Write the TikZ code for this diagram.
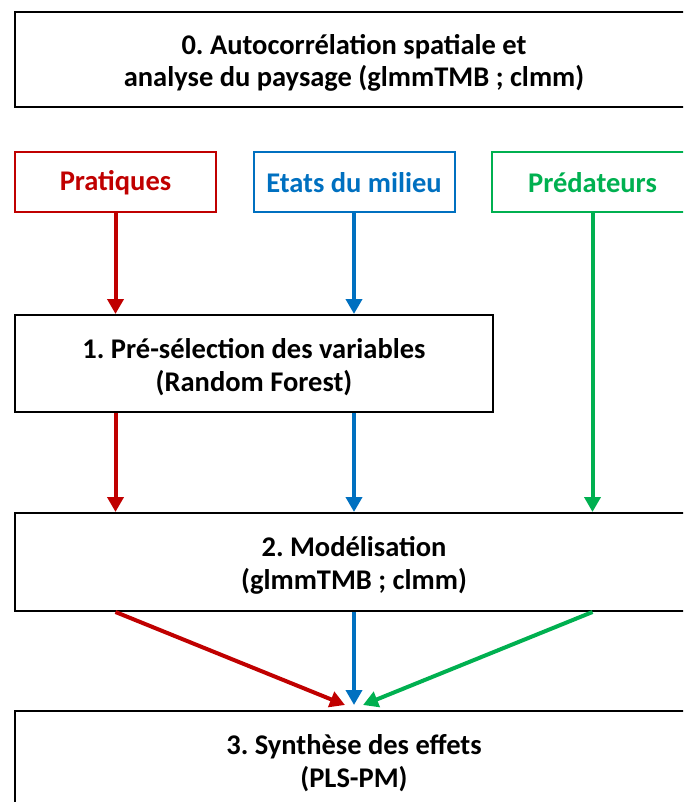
\documentclass[tikz,border=0pt]{standalone}
\usepackage{fontspec}
\setmainfont{Carlito}
\usetikzlibrary{arrows.meta}
\frenchspacing
\definecolor{cred}{HTML}{C00000}
\definecolor{cblue}{HTML}{0070C0}
\definecolor{cgreen}{HTML}{00B050}
\tikzset{
  steptext/.style={font=\fontsize{28.5}{32.5}\selectfont\bfseries, align=center,
    inner sep=0pt, yshift=-3.5pt},
  stepbox/.style={draw=black, line width=2pt, inner sep=0pt, fill=white,
    label={[steptext]center:{#1}}},
  catbox/.style={draw=#1, text=#1, line width=2pt, inner sep=0pt, align=center,
    minimum width=201pt, minimum height=60pt,
    font=\fontsize{28.5}{33}\selectfont\bfseries},
  flow/.style={draw=#1, line width=4pt, -{Triangle[length=15pt,width=16pt]}},
}
\begin{document}
\begin{tikzpicture}[x=1pt,y=-1pt]
\useasboundingbox (0,0) rectangle (683,802);
\clip (0,0) rectangle (683,802);
\node[stepbox={0. Autocorrélation spatiale et\\analyse du paysage (glmmTMB ; clmm)},
  minimum width=678pt, minimum height=95pt] (b0) at (354,59.5) {};
\node[catbox=cred] (prat) at (115.5,182.5) {Pratiques};
\node[catbox=cblue] (etat) at (354,182.5) {Etats du milieu};
\node[catbox=cgreen] (pred) at (592.5,182.5) {Prédateurs};
\node[stepbox={1. Pré-sélection des variables\\(Random Forest)},
  minimum width=478pt, minimum height=97pt] (b1) at (254,363.5) {};
\node[stepbox={2. Modélisation\\(glmmTMB ; clmm)},
  minimum width=678pt, minimum height=98pt] (b2) at (354,562) {};
\node[stepbox={3. Synthèse des effets\\(PLS-PM)},
  minimum width=678pt, minimum height=97pt] (b3) at (354,759.5) {};
\coordinate (tr) at (345,705);
\coordinate (tb) at (354,705);
\coordinate (tg) at (363,705);
\draw[flow=cred] (prat.south) -- (prat.south |- b1.north);
\draw[flow=cblue] (etat.south) -- (etat.south |- b1.north);
\draw[flow=cgreen] (pred.south) -- (pred.south |- b2.north);
\draw[flow=cred] (prat.south |- b1.south) -- (prat.south |- b2.north);
\draw[flow=cblue] (etat.south |- b1.south) -- (etat.south |- b2.north);
\draw[flow=cred] (prat.south |- b2.south) -- (tr);
\draw[flow=cblue] (b2.south) -- (tb);
\draw[flow=cgreen] (pred.south |- b2.south) -- (tg);
\end{tikzpicture}
\end{document}
